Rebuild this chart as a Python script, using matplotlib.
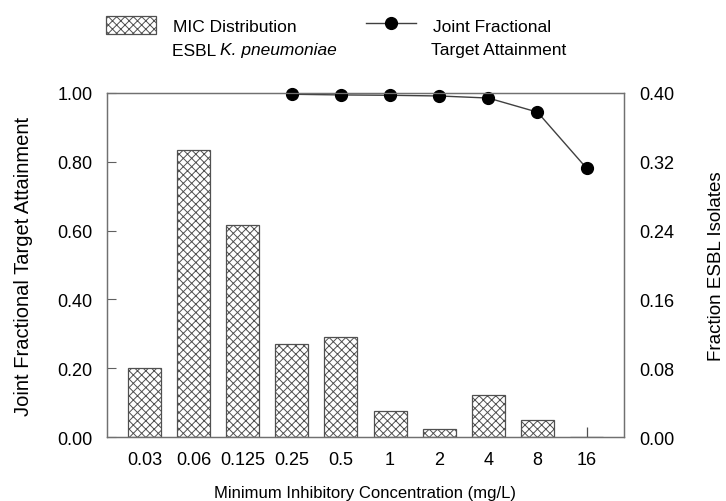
import numpy as np
import matplotlib.pyplot as plt

plt.rcParams['font.family'] = ['Liberation Sans', 'DejaVu Sans']
plt.rcParams['hatch.linewidth'] = 0.7
plt.rcParams['hatch.color'] = '#404040'

# MIC categories (mg/L)
mic = ['0.03', '0.06', '0.125', '0.25', '0.5', '1', '2', '4', '8', '16']
# fraction of ESBL K. pneumoniae isolates at each MIC (right axis)
frac_isolates = [0.080, 0.334, 0.246, 0.108, 0.117, 0.030, 0.009, 0.049, 0.020, 0.0]
# joint fractional target attainment (left axis), from MIC 0.25 upward
fta_mic = ['0.25', '0.5', '1', '2', '4', '8', '16']
fta = [0.996, 0.994, 0.993, 0.991, 0.985, 0.944, 0.781]

x = np.arange(len(mic))
x_fta = [mic.index(m) for m in fta_mic]

fig = plt.figure(figsize=(7.26, 5.02), dpi=100)
ax = fig.add_axes([0.147, 0.127, 0.7125, 0.686])
ax2 = ax.twinx()

# bars on the right axis, drawn below the line
bars = ax2.bar(x, frac_isolates, width=0.67, color='white', edgecolor='#505050',
               linewidth=0.9, hatch='xxxx')
line, = ax.plot(x_fta, fta, color='#404040', linewidth=1.0, marker='o',
                markersize=8.5, markerfacecolor='black', markeredgecolor='black',
                clip_on=False)
ax.set_zorder(ax2.get_zorder() + 1)
ax.patch.set_visible(False)

ax.set_xlim(-0.765, 9.76)
ax.set_ylim(0, 1.0)
ax2.set_ylim(0, 0.40)

ax.set_yticks(np.arange(0, 1.01, 0.2))
ax.set_yticklabels(['%.2f' % v for v in np.arange(0, 1.01, 0.2)])
ax2.set_yticks(np.arange(0, 0.401, 0.08))
ax2.set_yticklabels(['%.2f' % v for v in np.arange(0, 0.401, 0.08)])

ax.set_xticks(x)
ax.set_xticklabels(mic)
ax.xaxis.remove_overlapping_locs = False
ax.set_xticks([x[-1]], minor=True)

ax.tick_params(axis='y', direction='in', length=6.5, width=0.8, color='#606060',
               labelsize=13, pad=10)
ax.tick_params(axis='x', which='major', length=0, labelsize=13, pad=10)
ax.tick_params(axis='x', which='minor', direction='in', length=7, width=0.9, color='#505050')
ax2.tick_params(axis='y', length=0, labelsize=13, pad=11)

for a in (ax, ax2):
    for s in a.spines.values():
        s.set_color('#707070')
        s.set_linewidth(0.9)

ax.set_xlabel('Minimum Inhibitory Concentration (mg/L)', fontsize=12, labelpad=12)
ax.set_ylabel('Joint Fractional Target Attainment', fontsize=14.5, labelpad=18)
ax2.set_ylabel('Fraction ESBL Isolates', fontsize=13.5, labelpad=24)

# legend: first line next to the symbol, second line below it
leg = fig.legend(handles=[bars, line], labels=['MIC Distribution', 'Joint Fractional'],
                 loc='upper left', bbox_to_anchor=(106 / 726, 1 - 17 / 502),
                 ncol=2, frameon=False, fontsize=12.5, borderpad=0, borderaxespad=0,
                 handlelength=2.9, handleheight=1.2, columnspacing=4.0,
                 handletextpad=0.95)
y2 = 1 - 51 / 502
t_esbl = fig.text(172 / 726, y2, 'ESBL ', fontsize=12.5, va='center', ha='left')
fig.canvas.draw()
bb = t_esbl.get_window_extent()
fig.text(bb.x1 / fig.bbox.width, y2, 'K. pneumoniae', fontsize=12.5, style='italic',
         va='center', ha='left')
fig.text(431 / 726, y2, 'Target Attainment', fontsize=12.5, va='center', ha='left')

fig.savefig('out.png', dpi=100)
